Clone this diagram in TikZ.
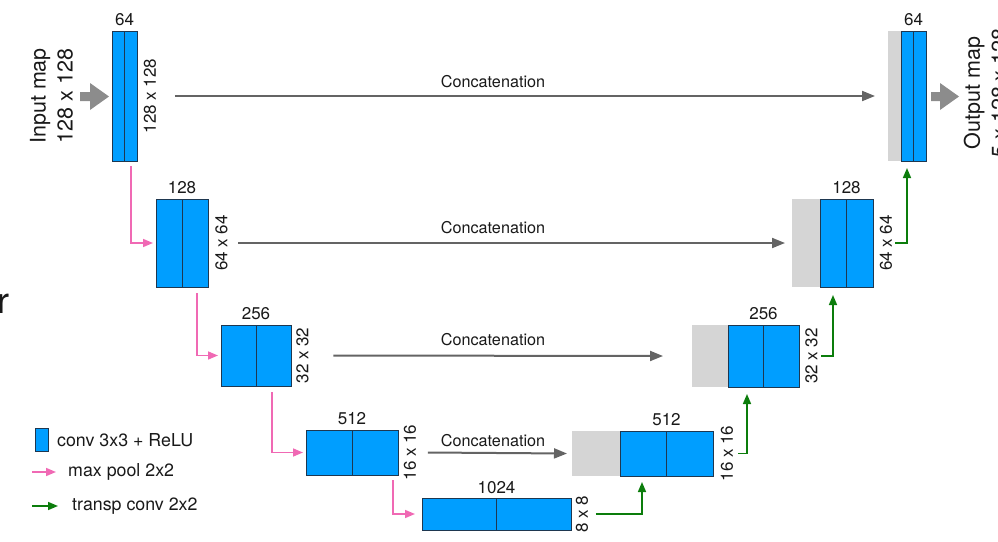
\documentclass[tikz,border=0pt]{standalone}
\usepackage{fontspec}
\setmainfont{TeX Gyre Heros}
\usetikzlibrary{arrows.meta}

\definecolor{convblue}{RGB}{0,158,255}
\definecolor{convedge}{RGB}{30,55,80}
\definecolor{catgray}{RGB}{213,213,213}
\definecolor{linegray}{RGB}{100,100,100}
\definecolor{poolpink}{RGB}{240,105,180}
\definecolor{upgreen}{RGB}{12,125,12}
\definecolor{inkgray}{RGB}{25,25,25}
\definecolor{bigarrow}{RGB}{140,140,140}

\begin{document}
\begin{tikzpicture}[x=1pt,y=-1pt,
  conv/.style={draw=convedge, fill=convblue, line width=0.9pt, inner sep=0pt, outer sep=0pt},
  catblock/.style={fill=catgray, inner sep=0pt, outer sep=0pt, anchor=east},
  divider/.style={draw=convedge, line width=0.9pt},
  chan/.style={anchor=base, inner sep=0pt, text=inkgray, font=\fontsize{17}{17}\selectfont},
  dims/.style={rotate=90, inner sep=2pt, text=inkgray, font=\fontsize{17}{17}\selectfont},
  cattext/.style={inner sep=0pt, text=inkgray, font=\fontsize{16.2}{16.2}\selectfont},
  catline/.style={draw=linegray, line width=2pt, -{Triangle[length=13pt,width=10pt]}},
  pool/.style={draw=poolpink, line width=1.6pt, -{Triangle[length=10pt,width=8pt]}},
  upconv/.style={draw=upgreen, line width=1.6pt, -{Triangle[length=10pt,width=8pt]}},
  legendtext/.style={anchor=west, inner sep=0pt, text=inkgray, font=\fontsize{17.8}{17.8}\selectfont},
  sidetext/.style={rotate=90, align=center, inner sep=0pt, text=inkgray, font=\fontsize{21.5}{27}\selectfont}
]
\useasboundingbox (0,0) rectangle (998,541);

% ---------- contracting path ----------
\node[conv, minimum width=25, minimum height=130] (L1) at (124.5,96) {};
\node[conv, minimum width=52, minimum height=88]  (L2) at (182,243) {};
\node[conv, minimum width=70, minimum height=61]  (L3) at (256,355.5) {};
\node[conv, minimum width=92, minimum height=45]  (L4) at (352,452.5) {};
\node[conv, minimum width=149, minimum height=32] (L5) at (496.5,514) {};

% ---------- expanding path (concatenated part in gray) ----------
\node[conv, minimum width=25, minimum height=130] (R1) at (913.5,96) {};
\node[conv, minimum width=53, minimum height=88]  (R2) at (846.5,243) {};
\node[conv, minimum width=71, minimum height=62]  (R3) at (763.5,356) {};
\node[conv, minimum width=93, minimum height=45]  (R4) at (666.5,453.5) {};

\node[catblock, minimum width=13, minimum height=130] (R1g) at (R1.west) {};
\node[catblock, minimum width=28, minimum height=88]  (R2g) at (R2.west) {};
\node[catblock, minimum width=36, minimum height=62]  (R3g) at (R3.west) {};
\node[catblock, minimum width=48, minimum height=45]  (R4g) at (R4.west) {};

% redraw blue blocks above the gray ones
\foreach \b in {R1,R2,R3,R4} {
  \draw[conv] (\b.south west) rectangle (\b.north east);
}
\foreach \b in {L1,L2,L3,L4,L5,R1,R2,R3,R4} {
  \draw[divider] (\b.north) -- (\b.south);
}

% ---------- channel counts ----------
\node[chan] at ([yshift=6pt]L1.north) {64};
\node[chan] at ([yshift=6pt]L2.north) {128};
\node[chan] at ([yshift=6pt]L3.north) {256};
\node[chan] at ([yshift=6pt]L4.north) {512};
\node[chan] at ([yshift=5pt]L5.north) {1024};
\node[chan] at ([yshift=6pt]R1.north) {64};
\node[chan] at ([yshift=6pt]R2.north) {128};
\node[chan] at ([yshift=6pt]R3.north) {256};
\node[chan] at ([yshift=6pt]R4.north) {512};

% ---------- spatial sizes ----------
\node[dims] (L1s) at ([xshift=13pt]L1.east) {128 x 128};
\node[dims] (L2s) at ([xshift=13.5pt]L2.east) {64 x 64};
\node[dims] (L3s) at ([xshift=11.5pt]L3.east) {32 x 32};
\node[dims] (L4s) at ([xshift=12pt]L4.east) {16 x 16};
\node[dims] (L5s) at ([xshift=11pt]L5.east) {8 x 8};
\node[dims] (R2s) at ([xshift=13pt]R2.east) {64 x 64};
\node[dims] (R3s) at ([xshift=12.5pt]R3.east) {32 x 32};
\node[dims] (R4s) at ([xshift=14pt]R4.east) {16 x 16};

% ---------- skip connections ----------
\draw[catline] ([xshift=16.5pt]L1s.south) -- ([xshift=-13pt]R1g.west);
\draw[catline] ([xshift=8.5pt]L2s.south) -- ([xshift=-7pt]R2g.west);
\draw[catline] ([xshift=22.5pt]L3s.south) -- ([xshift=-29pt]R3g.west);
\draw[catline] ([xshift=9.5pt]L4s.south) -- ([xshift=-5pt]R4g.west);

\node[cattext] (c1) at (493,82) {Concatenation};
\node[cattext] (c2) at (493,228) {Concatenation};
\node[cattext] (c3) at (493,340) {Concatenation};
\node[cattext] (c4) at (493,441) {Concatenation};

% ---------- max pooling ----------
\draw[pool] ([xshift=-6pt,yshift=-5pt]L1.south east) |- ([xshift=-3pt]L2.west);
\draw[pool] ([xshift=-11pt,yshift=-6pt]L2.south east) |- ([xshift=-3pt]L3.west);
\draw[pool] ([xshift=-19pt,yshift=-6pt]L3.south east) |- ([xshift=-3pt]L4.west);
\draw[pool] ([xshift=-5pt,yshift=-5pt]L4.south east) |- ([xshift=-7pt]L5.west);

% ---------- transposed convolutions ----------
\draw[upconv] ([xshift=5.5pt]L5s.south) -| ([xshift=22pt,yshift=-6pt]R4.south west);
\draw[upconv] ([xshift=3pt]R4s.south) -| ([xshift=19pt,yshift=-7pt]R3.south west);
\draw[upconv] ([xshift=1.5pt]R3s.south) -| ([xshift=13pt,yshift=-8pt]R2.south west);
\draw[upconv] ([xshift=1pt]R2s.south) -| ([xshift=6pt,yshift=-7pt]R1.south west);

% ---------- input and output ----------
\fill[bigarrow] (80,92) -- (90,92) -- (90,83) -- (109,96.5) -- (90,110) -- (90,101) -- (80,101) -- cycle;
\fill[bigarrow] (931,92) -- (940,92) -- (940,83) -- (959,96.5) -- (940,110) -- (940,101) -- (931,101) -- cycle;
\node[sidetext] (inlab) at (51.5,96) {Input map\\128 x 128};
\node[sidetext] (outlab) at (985.5,93) {Output map\\5 x 128 x 128};

% letter cut off at the left edge
\node[anchor=base west, inner sep=0pt, text=inkgray, font=\fontsize{36}{36}\selectfont] (edge) at (-3,313) {r};

% ---------- legend ----------
\node[conv, minimum width=13, minimum height=23] (lg1) at (41.5,439.5) {};
\node[legendtext] (lt1) at (57,440) {conv 3x3 + ReLU};
\coordinate (lp0) at (32,472);
\coordinate (lp1) at (56,472);
\draw[pool] (lp0) -- (lp1);
\node[legendtext] (lt2) at (68,472) {max pool 2x2};
\coordinate (lg0) at (32,506);
\coordinate (lg2) at (58,506);
\draw[upconv] (lg0) -- (lg2);
\node[legendtext] (lt3) at (72,506) {transp conv 2x2};
\end{tikzpicture}
\end{document}
